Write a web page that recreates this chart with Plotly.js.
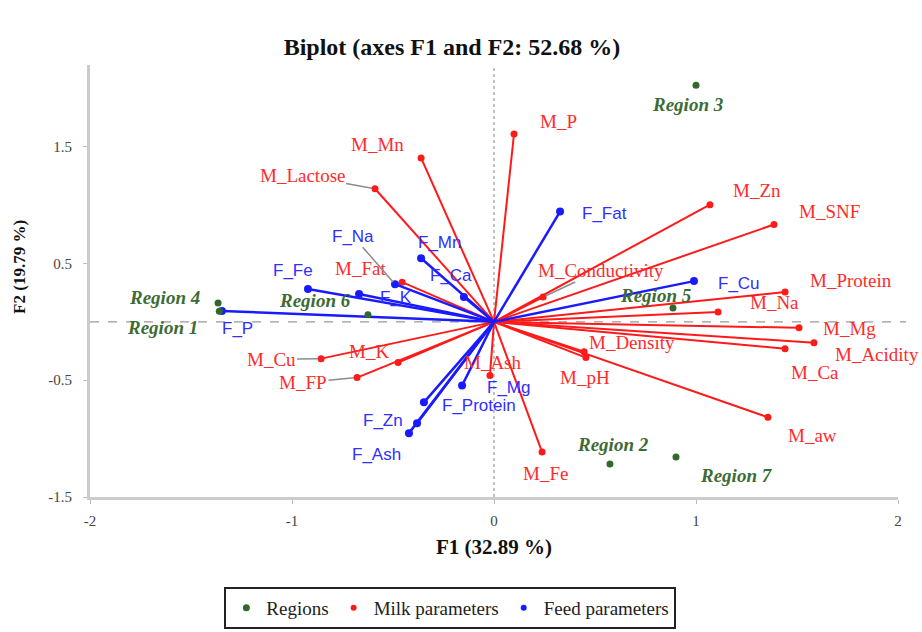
<!DOCTYPE html>
<html>
<head>
<meta charset="utf-8">
<script src="https://cdn.plot.ly/plotly-3.0.1.min.js"></script>
<style>html,body{margin:0;padding:0;background:#fff;}#chart{width:922px;height:632px;}</style>
</head>
<body>
<div id="chart"></div>
<script>
// ---- data (F1, F2 coordinates) ----
const regionNames = ['Region 1','Region 2','Region 3','Region 4','Region 5','Region 6','Region 7'];
const regionF1 = [-1.36, 0.574, 1.0, -1.366, 0.886, -0.624, 0.901];
const regionF2 = [0.09, -1.217, 2.026, 0.162, 0.119, 0.06, -1.157];

const milkNames = ['M_P','M_Mn','M_Lactose','M_Fat','M_Zn','M_SNF','M_Conductivity','M_Protein','M_Na','M_Mg',
                   'M_Acidity','M_Ca','M_Density','M_pH','M_aw','M_Fe','M_Ash','M_K','M_Cu','M_FP'];
const milkF1 = [0.099, -0.361, -0.589, -0.455, 1.069, 1.386, 0.243, 1.441, 1.109, 1.51,
                1.584, 1.441, 0.446, 0.455, 1.356, 0.238, -0.02, -0.475, -0.856, -0.678];
const milkF2 = [1.609, 1.404, 1.14, 0.34, 1.004, 0.834, 0.213, 0.255, 0.085, -0.051,
                -0.179, -0.23, -0.255, -0.306, -0.817, -1.115, -0.46, -0.349, -0.315, -0.477];

const feedNames = ['F_Fat','F_Cu','F_Na','F_Mn','F_Ca','F_K','F_Fe','F_P','F_Mg','F_Protein','F_Zn','F_Ash'];
const feedF1 = [0.327, 0.99, -0.49, -0.361, -0.149, -0.668, -0.921, -1.347, -0.158, -0.347, -0.381, -0.421];
const feedF2 = [0.945, 0.349, 0.323, 0.545, 0.213, 0.238, 0.281, 0.094, -0.545, -0.689, -0.868, -0.953];

const xTickVals = [-2, -1, 0, 1, 2];
const xTickText = ['-2', '-1', '0', '1', '2'];
const yTickVals = [-1.5, -0.5, 0.5, 1.5];
const yTickText = ['-1.5', '-0.5', '0.5', '1.5'];

// ---- label placement (pixel offsets of label centre from the point) ----
const regionLabelOff = [[-57,16],[3,-19],[-9,19],[-54,-5],[-17,-12],[-53,-14],[60,19]];
const milkLabelOff = [[44,-13],[-44,-13],[-73,-13],[-42,-14],[47,-14],[56,-13],[58,-27],[66,-12],[56,-9],[50,1],
                      [63,12],[30,24],[48,-9],[-1,20],[45,18],[3,21],[3,-13],[-29,-11],[-50,1],[-54,5]];
const feedLabelOff = [[44,2],[45,2],[-42,-48],[18,-16],[-13,-22],[37,3],[-15,-19],[16,18],[46,2],[55,3],[-34,-3],[-32,21]];
const leaderLabels = ['M_Lactose','M_Conductivity','M_Cu','M_FP','F_Na'];

const RED = '#ff1a1a', BLUE = '#1a1aff', GREEN = '#2f6a2a';

function vectorLines(xs, ys) {
  const lx = [], ly = [];
  xs.forEach((v, i) => { lx.push(0, v, null); ly.push(0, ys[i], null); });
  return {x: lx, y: ly};
}
const milkV = vectorLines(milkF1, milkF2);
const feedV = vectorLines(feedF1, feedF2);

const traces = [
  {x: milkV.x, y: milkV.y, mode: 'lines', line: {color: RED, width: 2}, showlegend: false, hoverinfo: 'skip'},
  {x: milkF1, y: milkF2, text: milkNames, mode: 'markers', marker: {color: RED, size: 7}, showlegend: false},
  {x: feedV.x, y: feedV.y, mode: 'lines', line: {color: BLUE, width: 2.5}, showlegend: false, hoverinfo: 'skip'},
  {x: feedF1, y: feedF2, text: feedNames, mode: 'markers', marker: {color: BLUE, size: 8, symbol: 'circle'}, showlegend: false},
  {x: regionF1, y: regionF2, text: regionNames, mode: 'markers', marker: {color: GREEN, size: 7}, name: 'Regions', showlegend: true},
  {x: [null], y: [null], mode: 'markers', marker: {color: RED, size: 6}, name: 'Milk parameters'},
  {x: [null], y: [null], mode: 'markers', marker: {color: BLUE, size: 6}, name: 'Feed parameters'}
];

const annotations = [];
function addLabels(names, xs, ys, offs, font) {
  names.forEach((n, i) => {
    const lead = leaderLabels.includes(n);
    annotations.push({
      x: xs[i], y: ys[i], xref: 'x', yref: 'y', text: n, showarrow: true,
      ax: offs[i][0], ay: offs[i][1], arrowhead: 0, arrowwidth: lead ? 1.5 : 0.1,
      arrowcolor: lead ? '#8c8c8c' : 'rgba(0,0,0,0)', standoff: 3, font: font
    });
  });
}
addLabels(milkNames, milkF1, milkF2, milkLabelOff, {family: 'Liberation Serif', size: 19, color: '#ff2b2b'});
addLabels(feedNames, feedF1, feedF2, feedLabelOff, {family: 'Liberation Sans', size: 17, color: '#2f2fff'});
addLabels(regionNames, regionF1, regionF2, regionLabelOff, {family: 'Liberation Serif', size: 19, color: '#3d6b35', weight: 'bold', style: 'italic'});

annotations.push({
  xref: 'paper', yref: 'paper', x: -0.088, y: (497 - 267) / 432, xanchor: 'center', yanchor: 'middle',
  text: 'F2 (19.79 %)', textangle: -90, showarrow: false,
  font: {family: 'Liberation Serif', size: 17, color: '#111', weight: 'bold'}
});

const layout = {
  width: 922, height: 632,
  margin: {l: 90, r: 24, t: 65, b: 135},
  paper_bgcolor: '#fff', plot_bgcolor: '#fff',
  title: {text: 'Biplot (axes F1 and F2: 52.68 %)', x: 452 / 922, xref: 'container', xanchor: 'center',
          y: 1 - 47 / 632, yref: 'container', yanchor: 'middle',
          font: {family: 'Liberation Serif', size: 24, color: '#111', weight: 'bold'}},
  xaxis: {range: [-2, 2], tickvals: xTickVals, ticktext: xTickText, showgrid: false, zeroline: false, automargin: false,
          showline: true, linecolor: '#cccccc', linewidth: 3, ticks: 'outside', ticklen: 4, tickcolor: '#bbbbbb',
          tickfont: {family: 'Liberation Serif', size: 15, color: '#444'}, ticklabelstandoff: 4,
          title: {text: 'F1 (32.89 %)', standoff: 12, font: {family: 'Liberation Serif', size: 21, color: '#111', weight: 'bold'}}},
  yaxis: {range: [-1.5, 2.2], tickvals: yTickVals, ticktext: yTickText, showgrid: false, zeroline: false, automargin: false,
          showline: true, linecolor: '#cccccc', linewidth: 3, ticks: 'outside', ticklen: 4, tickcolor: '#bbbbbb',
          tickfont: {family: 'Liberation Serif', size: 15, color: '#444'}, ticklabelstandoff: 8},
  shapes: [
    {type: 'line', xref: 'x', yref: 'paper', x0: 0, x1: 0, y0: 0, y1: 1, line: {color: '#999', width: 1.2, dash: 'dot'}, layer: 'below'},
    {type: 'line', xref: 'paper', yref: 'y', x0: 0, x1: 1.01, y0: 0, y1: 0, line: {color: '#999', width: 1.2, dash: 'dash'}, layer: 'below'}
  ],
  annotations: annotations,
  showlegend: true,
  legend: {orientation: 'h', x: 0.446, xanchor: 'center', yref: 'container', y: 1 - 587 / 632, yanchor: 'top',
           bordercolor: '#222', borderwidth: 2, bgcolor: '#fff', itemwidth: 30,
           font: {family: 'Liberation Serif', size: 19, color: '#222'}}
};

Plotly.newPlot('chart', traces, layout, {displayModeBar: false, staticPlot: true});
</script>
</body>
</html>
